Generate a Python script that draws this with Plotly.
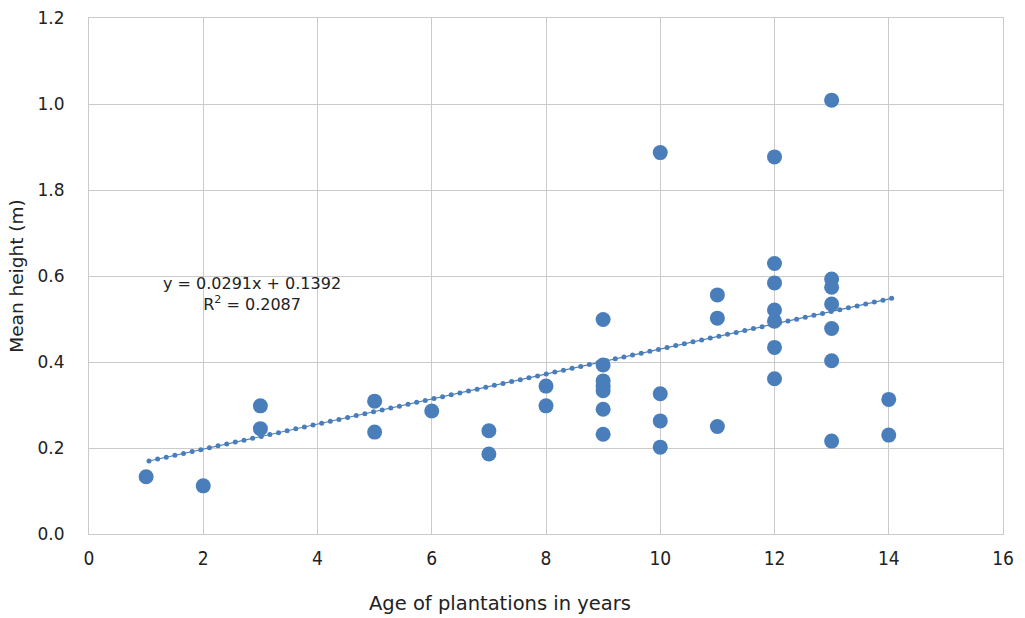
import numpy as np
import plotly.graph_objects as go

# Data
age = [1, 2, 3, 3, 5, 5, 6, 7, 7, 8, 8,
       9, 9, 9, 9, 9, 9, 9,
       10, 10, 10, 10,
       11, 11, 11,
       12, 12, 12, 12, 12, 12, 12,
       13, 13, 13, 13, 13, 13, 13,
       14, 14]
height = [0.133, 0.112, 0.298, 0.245, 0.309, 0.237, 0.286, 0.240, 0.186, 0.344, 0.298,
          0.499, 0.393, 0.356, 0.343, 0.333, 0.290, 0.232,
          0.887, 0.326, 0.263, 0.202,
          0.556, 0.502, 0.250,
          0.877, 0.629, 0.584, 0.521, 0.495, 0.434, 0.361,
          1.009, 0.593, 0.574, 0.535, 0.478, 0.403, 0.216,
          0.313, 0.230]

slope = 0.0291
intercept = 0.1392
r2 = 0.2087
trend_x_range = [1.05, 14.05]

y_tickvals = [0.0, 0.2, 0.4, 0.6, 0.8, 1.0, 1.2]
y_ticktext = ["0.0", "0.2", "0.4", "0.6", "1.8", "1.0", "1.2"]
x_tickvals = [0, 2, 4, 6, 8, 10, 12, 14, 16]
x_title = "Age of plantations in years"
y_title = "Mean height (m)"

blue = "#4a7ebb"
grid = "#cbcbcb"
text_color = "#222222"
font = "DejaVu Sans"
narrow = "DejaVu Sans Condensed, Liberation Sans Narrow, DejaVu Sans"

tx = np.linspace(trend_x_range[0], trend_x_range[1], 87)
ty = slope * tx + intercept

fig = go.Figure()
fig.add_trace(go.Scatter(
    x=tx, y=ty, mode="lines+markers",
    line=dict(color=blue, width=1.2),
    marker=dict(color=blue, size=5),
    hoverinfo="skip", showlegend=False,
))
fig.add_trace(go.Scatter(
    x=age, y=height, mode="markers",
    marker=dict(color=blue, size=15, line=dict(width=0)),
    showlegend=False,
))

plot_l, plot_r, plot_t, plot_b = 89, 1003, 18, 534
pw, ph = plot_r - plot_l, plot_b - plot_t

fig.add_annotation(
    x=(252 - plot_l) / pw, y=(plot_b - 294) / ph,
    xref="paper", yref="paper", xanchor="center", yanchor="middle",
    text=f"y = {slope}x + {intercept}<br>R<sup>2</sup> = {r2}",
    showarrow=False, align="center",
    font=dict(family=font, size=16, color=text_color),
)
# x-axis title (offset left of the plot centre, as in the reference)
fig.add_annotation(
    x=(500 - plot_l) / pw, y=(plot_b - 603) / ph,
    xref="paper", yref="paper", xanchor="center", yanchor="middle",
    text=x_title, showarrow=False,
    font=dict(family=font, size=19.5, color=text_color),
)

fig.update_layout(
    width=1025, height=618,
    margin=dict(l=89, r=22, t=18, b=84),
    paper_bgcolor="white", plot_bgcolor="white",
    font=dict(family=font, size=17, color=text_color),
)
fig.update_xaxes(
    range=[0, 16], tickvals=x_tickvals, showgrid=True, gridcolor=grid, gridwidth=1,
    zeroline=False, showline=True, linecolor=grid, mirror=True, automargin=False,
    tickfont=dict(family=narrow, size=19), ticklabelstandoff=7,
)
fig.update_yaxes(
    range=[0, 1.2], tickvals=y_tickvals, ticktext=y_ticktext,
    showgrid=True, gridcolor=grid, gridwidth=1,
    zeroline=False, showline=True, linecolor=grid, mirror=True, automargin=False,
    tickfont=dict(size=17), ticklabelstandoff=20,
    title=dict(text=y_title, font=dict(size=18.5), standoff=9),
)

fig.write_html("out.html")
